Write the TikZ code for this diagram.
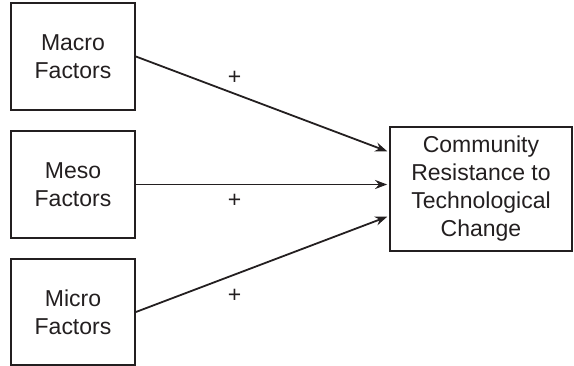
\documentclass[tikz,border=0pt]{standalone}
\usepackage{fontspec}
\setmainfont{Liberation Sans}
\usepackage{tikz}
\usetikzlibrary{arrows.meta,positioning}
\definecolor{ink}{HTML}{231F20}
\tikzset{box/.style={draw=ink,line width=1.8pt,text=ink,align=center,font=\fontsize{23}{28}\selectfont,inner sep=0pt},arr/.style={-{Stealth[length=12pt,width=9pt]},line width=1.8pt,draw=ink,shorten >=2pt},plus/.style={text=ink,font=\fontsize{23}{28}\selectfont,inner sep=0pt}}

\begin{document}
\begin{tikzpicture}[x=1pt,y=-1pt]
\useasboundingbox (0,0) rectangle (574,366);
\node[box,minimum width=124pt,minimum height=107pt] (macro) at (73,56.5) {Macro\\Factors};
\node[box,minimum width=124pt,minimum height=107pt] (meso) at (73,184.5) {Meso\\Factors};
\node[box,minimum width=124pt,minimum height=106pt] (micro) at (73,312) {Micro\\Factors};
\node[box,minimum width=182pt,minimum height=124pt] (resist) at (481,189) {Community\\Resistance to\\Technological\\Change};
\draw[arr] (macro.east)--node[plus,pos=.39,yshift=16pt]{+}([yshift=37pt]resist.west);
\draw[arr] (meso.east)--node[plus,pos=.39,yshift=-16pt]{+}(resist.west |- meso.east);
\draw[arr] (micro.east)--node[plus,pos=.39,yshift=-21pt]{+}([yshift=-27pt]resist.west);
\end{tikzpicture}
\end{document}
